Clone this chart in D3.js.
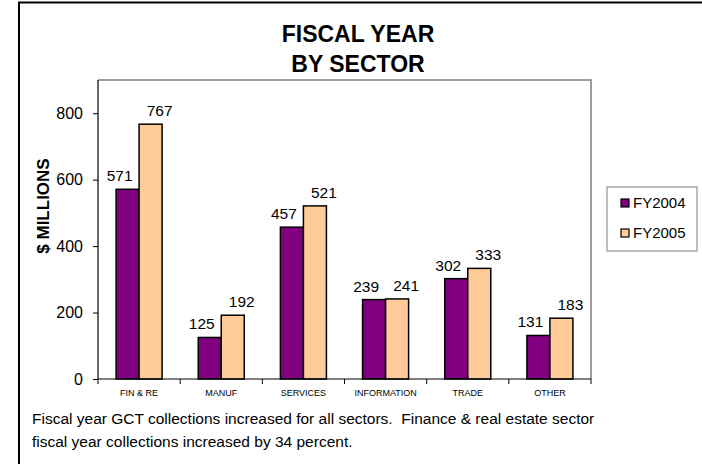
<!DOCTYPE html>
<html><head><meta charset="utf-8">
<script src="https://cdn.jsdelivr.net/npm/d3@7"></script>
<style>body{margin:0;background:#fff;} svg{display:block;font-family:Arial,"Liberation Sans",sans-serif;}</style>
</head><body>
<svg id="c" width="702" height="464"></svg>
<script>
const categories = ["FIN & RE","MANUF","SERVICES","INFORMATION","TRADE","OTHER"];
const seriesNames = ["FY2004","FY2005"];
const fy2004 = [571,125,457,239,302,131];
const fy2005 = [767,192,521,241,333,183];
const yTicks = [0,200,400,600,800];
const colors = ["#800080","#FFCC99"];
const titleLines = ["FISCAL YEAR","BY SECTOR"];
const caption = ["Fiscal year GCT collections increased for all sectors.  Finance & real estate sector",
                 "fiscal year collections increased by 34 percent."];

const svg = d3.select("#c");
// outer frame
svg.append("rect").attr("x",19).attr("y",2.5).attr("width",700).attr("height",480)
  .attr("fill","none").attr("stroke","#000").attr("stroke-width",2);

const L=98,R=591,T=80,B=379;
const x = d3.scaleBand().domain(categories).range([L,R]).paddingInner(0.44).paddingOuter(0.22);
const x1 = d3.scaleBand().domain(seriesNames).range([0,x.bandwidth()]);
const y = d3.scaleLinear().domain([0,900]).range([B,T]);

// plot area border (gray top/right)
svg.append("path").attr("d",`M${L},${T}H${R}V${B}`).attr("fill","none").attr("stroke","#808080").attr("stroke-width",1.5);

const data = [fy2004, fy2005];
const labelShift = [-8, 9];
seriesNames.forEach((s,si)=>{
  const g = svg.append("g");
  g.selectAll("rect").data(categories).join("rect")
    .attr("x",c=>x(c)+x1(s)).attr("y",(c,i)=>y(data[si][i]))
    .attr("width",x1.bandwidth()).attr("height",(c,i)=>B-y(data[si][i]))
    .attr("fill",colors[si]).attr("stroke","#000").attr("stroke-width",1.5);
  g.selectAll("text").data(categories).join("text")
    .attr("x",c=>x(c)+x1(s)+x1.bandwidth()/2+labelShift[si]).attr("y",(c,i)=>y(data[si][i])-8)
    .attr("text-anchor","middle").attr("font-size",15.5).text((c,i)=>data[si][i]);
});

// y axis
const ya = svg.append("g").attr("transform",`translate(${L},0)`)
  .call(d3.axisLeft(y).tickValues(yTicks).tickSize(5).tickPadding(10));
ya.selectAll("text").attr("font-size",16).attr("font-family","Arial,'Liberation Sans',sans-serif").attr("fill","#000");
ya.select(".domain").attr("d",`M0,${B}V${T}`).attr("stroke","#000").attr("stroke-width",1.2);

// x axis
const xa = svg.append("g").attr("transform",`translate(0,${B})`)
  .call(d3.axisBottom(x).tickSize(0).tickPadding(11));
xa.select(".domain").attr("d",`M${L},0H${R}`).attr("stroke","#000").attr("stroke-width",1.2);
xa.selectAll("text").attr("font-size",9).attr("font-family","Arial,'Liberation Sans',sans-serif").attr("fill","#000");
const bounds = d3.range(categories.length+1).map(i=>L+i*(R-L)/categories.length);
svg.append("g").selectAll("line").data(bounds).join("line")
  .attr("x1",d=>d).attr("x2",d=>d).attr("y1",B).attr("y2",B+5).attr("stroke","#000");

// title
svg.append("g").selectAll("text").data(titleLines).join("text")
  .attr("x",358).attr("y",(d,i)=>42+i*30).attr("text-anchor","middle")
  .attr("font-size",23).attr("font-weight","bold").text(d=>d);

// y label
svg.append("text").attr("transform","translate(49,206) rotate(-90)")
  .attr("text-anchor","middle").attr("font-size",17).attr("font-weight","bold").text("$ MILLIONS");

// legend
const lg = svg.append("g");
lg.append("rect").attr("x",607).attr("y",187).attr("width",90).attr("height",64)
  .attr("fill","#fff").attr("stroke","#808080").attr("stroke-width",1);
seriesNames.forEach((s,i)=>{
  lg.append("rect").attr("x",621).attr("y",199+i*30).attr("width",8).attr("height",8)
    .attr("fill",colors[i]).attr("stroke","#000").attr("stroke-width",1.2);
  lg.append("text").attr("x",633).attr("y",208+i*30).attr("font-size",15).text(s);
});

// caption
svg.append("g").selectAll("text").data(caption).join("text")
  .attr("x",32).attr("y",(d,i)=>424+i*23).attr("font-size",15.5).attr("xml:space","preserve")
  .style("white-space","pre").text(d=>d);
</script>
</body></html>
